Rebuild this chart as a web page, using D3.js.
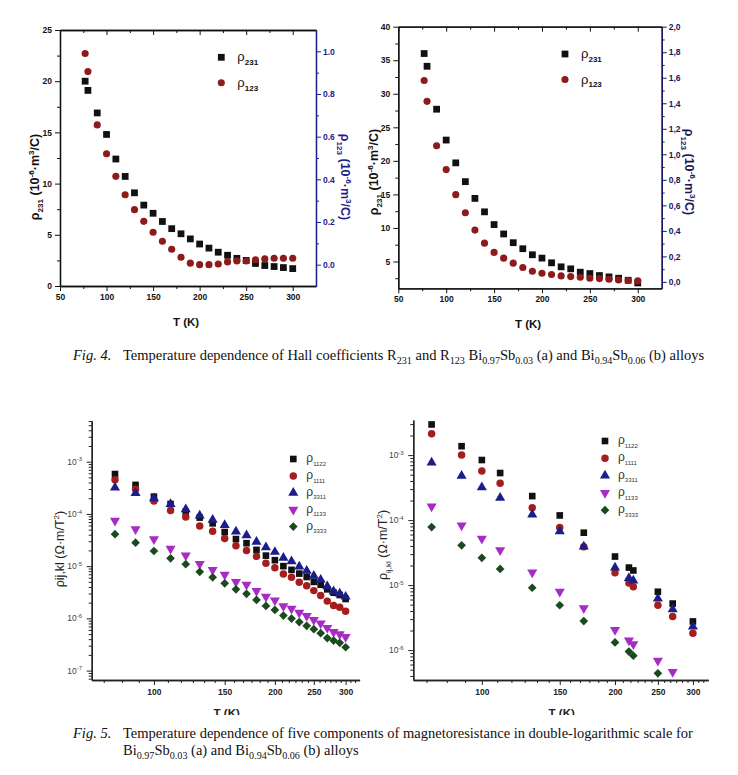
<!DOCTYPE html>
<html lang="en">
<head>
<meta charset="UTF-8">
<title>Fig. 4 / Fig. 5 - Hall coefficients and magnetoresistance</title>
<script src="https://d3js.org/d3.v7.min.js"></script>
<style>
  body { margin: 0; background: #fff; }
  svg { display: block; }
</style>
</head>
<body>
<svg id="fig" width="738" height="775"></svg>
<script>
// ---- Fig. 4 data (Hall coefficients) ----
const hallT = [77, 80, 90, 100, 110, 120, 130, 140, 150, 160, 170, 180, 190, 200, 210, 220, 230, 240, 250, 260, 270, 280, 290, 300];
const r231A = [20.0, 19.1, 16.9, 14.8, 12.4, 10.7, 9.1, 7.9, 7.1, 6.3, 5.6, 5.1, 4.6, 4.1, 3.7, 3.3, 3.0, 2.7, 2.5, 2.2, 2.0, 1.9, 1.8, 1.7];
const r123A = [0.99, 0.905, 0.655, 0.52, 0.414, 0.328, 0.258, 0.203, 0.152, 0.110, 0.072, 0.035, 0.007, 0.0, 0.0, 0.003, 0.013, 0.017, 0.017, 0.023, 0.027, 0.03, 0.03, 0.03];
const r231B = [36.0, 34.1, 27.7, 23.1, 19.7, 16.9, 14.4, 12.4, 10.5, 9.1, 7.8, 6.9, 6.0, 5.5, 4.8, 4.2, 3.9, 3.4, 3.2, 2.9, 2.7, 2.5, 2.2, 1.8];
const r123B = [1.578, 1.415, 1.067, 0.880, 0.684, 0.542, 0.406, 0.304, 0.231, 0.186, 0.147, 0.113, 0.084, 0.068, 0.058, 0.047, 0.042, 0.037, 0.029, 0.026, 0.021, 0.016, 0.011, 0.008];

const hallXTicks = [50, 100, 150, 200, 250, 300];
const hallXMinor = [75, 125, 175, 225, 275];
const leftTicksA = [0, 5, 10, 15, 20, 25];
const leftTicksB = [5, 10, 15, 20, 25, 30, 35, 40];
const rightTicksA = [0, 0.2, 0.4, 0.6, 0.8, 1.0];
const rightTicksB = [0, 0.2, 0.4, 0.6, 0.8, 1.0, 1.2, 1.4, 1.6, 1.8, 2.0];
const hallNames = ["231", "123"];

// ---- Fig. 5 data (magnetoresistance, log-log) ----
const mrTA = [80, 90, 100, 110, 120, 130, 140, 150, 160, 170, 180, 190, 200, 210, 220, 230, 240, 250, 260, 270, 280, 290, 300];
const p1122A = [5.8e-4, 3.6e-4, 2.14e-4, 1.55e-4, 1.1e-4, 8.5e-5, 6.6e-5, 4.5e-5, 3.3e-5, 2.75e-5, 2.05e-5, 1.59e-5, 1.3e-5, 1.0e-5, 8.5e-6, 7.2e-6, 6.2e-6, 5.0e-6, 4.4e-6, 3.6e-6, 3.1e-6, 2.8e-6, 2.35e-6];
const p1111A = [4.5e-4, 2.96e-4, 1.77e-4, 1.16e-4, 8.7e-5, 5.9e-5, 4.65e-5, 3.4e-5, 2.45e-5, 2.0e-5, 1.54e-5, 1.14e-5, 9.3e-6, 7.1e-6, 6.1e-6, 4.9e-6, 4.2e-6, 3.4e-6, 2.73e-6, 2.14e-6, 1.76e-6, 1.63e-6, 1.37e-6];
const p3311A = [3.2e-4, 2.5e-4, 1.99e-4, 1.55e-4, 1.23e-4, 9.3e-5, 7.7e-5, 6.1e-5, 4.6e-5, 3.9e-5, 2.93e-5, 2.29e-5, 1.87e-5, 1.44e-5, 1.24e-5, 9.8e-6, 8.1e-6, 6.5e-6, 5.5e-6, 4.1e-6, 3.3e-6, 2.97e-6, 2.6e-6];
const p1133A = [7.4e-5, 5.1e-5, 3.27e-5, 2.16e-5, 1.61e-5, 1.1e-5, 8.5e-6, 6.9e-6, 5.0e-6, 4.4e-6, 3.35e-6, 2.6e-6, 2.22e-6, 1.71e-6, 1.54e-6, 1.29e-6, 1.11e-6, 9.3e-7, 8.0e-7, 6.6e-7, 5.5e-7, 5.0e-7, 4.4e-7];
const p3333A = [4.1e-5, 2.82e-5, 1.95e-5, 1.41e-5, 1.09e-5, 7.8e-6, 6.1e-6, 4.7e-6, 3.6e-6, 2.95e-6, 2.25e-6, 1.73e-6, 1.45e-6, 1.13e-6, 9.9e-7, 8.5e-7, 7.2e-7, 6.2e-7, 5.2e-7, 4.2e-7, 3.75e-7, 3.4e-7, 2.8e-7];

const mrTB = [77, 90, 100, 110, 130, 150, 170, 200, 215, 220, 250, 270, 300];
const p1122B = [2.96e-3, 1.37e-3, 8.4e-4, 5.3e-4, 2.34e-4, 1.18e-4, 6.4e-5, 2.75e-5, 1.86e-5, 1.68e-5, 7.9e-6, 5.2e-6, 2.76e-6];
const p1111B = [2.13e-3, 1.0e-3, 5.7e-4, 3.7e-4, 1.55e-4, 7.7e-5, 3.9e-5, 1.55e-5, 1.08e-5, 9.4e-6, 4.9e-6, 3.3e-6, 1.82e-6];
const p3311B = [7.7e-4, 4.8e-4, 3.2e-4, 2.2e-4, 1.22e-4, 6.7e-5, 3.9e-5, 1.86e-5, 1.28e-5, 1.17e-5, 6.2e-6, 4.25e-6, 2.3e-6];
const p1133B = [1.62e-4, 8.3e-5, 5.2e-5, 3.45e-5, 1.57e-5, 7.9e-6, 4.4e-6, 2.04e-6, 1.41e-6, 1.23e-6, 6.9e-7, 4.6e-7, null];
const p3333B = [7.8e-5, 4.1e-5, 2.63e-5, 1.77e-5, 9.1e-6, 4.9e-6, 2.8e-6, 1.31e-6, 9.5e-7, 8.2e-7, 4.4e-7, null, null];

const mrXTicks = [100, 150, 200, 250, 300];
const mrYTicksA = [1e-7, 1e-6, 1e-5, 1e-4, 1e-3];
const mrYTicksB = [1e-6, 1e-5, 1e-4, 1e-3];
const mrNames = ["1122", "1111", "3311", "1133", "3333"];

const sans = '"Liberation Sans", Arial, sans-serif';
const serif = '"Liberation Serif", "Times New Roman", serif';
const svg = d3.select("#fig");

// text with sub/superscripts: parts = [[string, "sub"|"sup"|null], ...]
function rich(text, parts, size, small) {
  let off = 0;
  parts.forEach(([s, kind]) => {
    const target = kind === "sub" ? size * 0.3 : kind === "sup" ? -size * 0.4 : 0;
    const ts = text.append("tspan").text(s).attr("dy", target - off);
    if (kind) ts.attr("font-size", size * (small || 0.65));
    off = target;
  });
  return text;
}

function styleAxis(g, color, size, weight) {
  g.select(".domain").attr("stroke", color).attr("stroke-width", 1.3);
  g.selectAll(".tick line").attr("stroke", color).attr("stroke-width", 1);
  g.selectAll(".tick text").attr("fill", color).attr("font-size", size)
    .attr("font-weight", weight).attr("font-family", sans);
}

function addAxis(gen, tx, ty, color, size, weight) {
  const g = svg.append("g").attr("transform", `translate(${tx},${ty})`).call(gen);
  styleAxis(g, color, size || 8.5, weight || "bold");
  return g;
}

// ---------- Fig. 4 panels ----------
function drawHall(c) {
  const x = d3.scaleLinear().domain([50, 325]).range([c.left, c.right]);
  const yL = d3.scaleLinear().domain(c.yLDom).range([c.bottom, c.top]);
  const yR = d3.scaleLinear().domain(c.yRDom).range([c.bottom, c.top]);
  const k = "#111";

  addAxis(d3.axisBottom(x).tickValues(hallXMinor).tickSize(3).tickFormat("").tickSizeOuter(0), 0, c.bottom, k);
  addAxis(d3.axisBottom(x).tickValues(hallXTicks).tickSize(5).tickPadding(3).tickSizeOuter(0), 0, c.bottom, k);
  addAxis(d3.axisTop(x).tickValues(hallXMinor).tickSize(-3).tickFormat("").tickSizeOuter(0), 0, c.top, k);
  addAxis(d3.axisTop(x).tickValues(hallXTicks).tickSize(-5).tickFormat("").tickSizeOuter(0), 0, c.top, k);

  const lMinor = c.leftTicks.map(v => v - c.leftStep / 2).filter(v => v > c.yLDom[0]);
  addAxis(d3.axisLeft(yL).tickValues(lMinor).tickSize(3).tickFormat("").tickSizeOuter(0), c.left, 0, k);
  addAxis(d3.axisLeft(yL).tickValues(c.leftTicks).tickSize(5).tickPadding(3).tickSizeOuter(0), c.left, 0, k);

  const rMinor = c.rightTicks.map(v => v + 0.1).filter(v => v < c.yRDom[1]);
  addAxis(d3.axisRight(yR).tickValues(rMinor).tickSize(3).tickFormat("").tickSizeOuter(0), c.right, 0, c.blue);
  addAxis(d3.axisRight(yR).tickValues(c.rightTicks).tickSize(5).tickPadding(2).tickSizeOuter(0)
    .tickFormat(c.rFmt), c.right, 0, c.blue);

  // markers
  const sq = d3.symbol().type(d3.symbolSquare).size(46);
  const ci = d3.symbol().type(d3.symbolCircle).size(40);
  svg.append("g").selectAll("path").data(hallT.map((t, i) => [t, c.s231[i]])).join("path")
    .attr("d", sq).attr("fill", "#111")
    .attr("transform", d => `translate(${x(d[0])},${yL(d[1])})`);
  svg.append("g").selectAll("path").data(hallT.map((t, i) => [t, c.s123[i]])).join("path")
    .attr("d", ci).attr("fill", "#8e1b1b")
    .attr("transform", d => `translate(${x(d[0])},${yR(d[1])})`);

  // legend
  const lg = svg.append("g").attr("transform", `translate(${c.legX},${c.legY})`);
  [[sq, "#111"], [ci, "#8e1b1b"]].forEach(([sym, col], i) => {
    lg.append("path").attr("d", sym).attr("fill", col).attr("transform", `translate(0,${i * 25.5})`);
    rich(lg.append("text").attr("x", 16).attr("y", i * 25.5 + 4).attr("font-family", sans)
      .attr("font-size", 13).attr("fill", "#111"), [["ρ", null], [hallNames[i], "sub"]], 13, 0.62)
      .selectAll("tspan").filter((d, j) => j === 1).attr("font-weight", "bold");
  });

  // axis titles
  svg.append("text").attr("x", (c.left + c.right) / 2 - 2).attr("y", c.bottom + 40)
    .attr("text-anchor", "middle").attr("font-family", sans).attr("font-weight", "bold")
    .attr("font-size", 11.5).attr("fill", "#111").text("T (K)");
  rich(svg.append("text").attr("transform", `translate(${c.leftLabX},${c.labY}) rotate(-90)`)
    .attr("text-anchor", "middle").attr("font-family", sans).attr("font-weight", "bold")
    .attr("font-size", 12.5).attr("fill", "#111"),
    [["ρ", null], ["231", "sub"], [" (10", null], ["-6", "sup"], ["·m", null], ["3", "sup"], ["/C)", null]], 12.5);
  rich(svg.append("text").attr("transform", `translate(${c.rightLabX},${c.labY}) rotate(90)`)
    .attr("text-anchor", "middle").attr("font-family", sans).attr("font-weight", "bold")
    .attr("font-size", 12.5).attr("fill", c.blue),
    [["ρ", null], ["123", "sub"], [" (10", null], ["-6", "sup"], ["·m", null], ["3", "sup"], ["/C)", null]], 12.5);
}

drawHall({
  left: 60, right: 316, top: 30, bottom: 286,
  yLDom: [0, 25], yRDom: [-0.1, 1.1], leftTicks: leftTicksA, leftStep: 5, rightTicks: rightTicksA,
  s231: r231A, s123: r123A, blue: "#22228c", rFmt: d3.format(".1f"),
  legX: 221.3, legY: 57.3, leftLabX: 39, rightLabX: 341, labY: 177
});
drawHall({
  left: 398.3, right: 661.7, top: 26.7, bottom: 288.3,
  yLDom: [1, 40], yRDom: [-0.05, 2.0], leftTicks: leftTicksB, leftStep: 5, rightTicks: rightTicksB,
  s231: r231B, s123: r123B, blue: "#16165e", rFmt: v => d3.format(".1f")(v).replace(".", ","),
  legX: 565, legY: 54, leftLabX: 378, rightLabX: 685, labY: 172
});

// ---------- Fig. 5 panels ----------
function logMinor(lo, hi) {
  const out = [];
  for (let e = Math.floor(Math.log10(lo)); e <= Math.ceil(Math.log10(hi)); e++)
    for (let m = 2; m <= 9; m++) { const v = m * Math.pow(10, e); if (v > lo && v < hi) out.push(v); }
  return out;
}
function tMinor(lo, hi) {
  const out = [];
  for (let a = 50; a < 350; a += 50)
    for (let j = 1; j < 6; j++) { const v = a + j * 50 / 6; if (v > lo && v < hi) out.push(v); }
  return out;
}

function drawMR(c) {
  const x = d3.scaleLog().domain([70, 325]).range([c.left, c.right]);
  const y = d3.scaleLog().domain(c.yDom).range([c.bottom, c.top]);
  const k = "#222";

  addAxis(d3.axisBottom(x).tickValues(tMinor(70, 325)).tickSize(3).tickFormat("").tickSizeOuter(0), 0, c.bottom, k);
  addAxis(d3.axisBottom(x).tickValues(mrXTicks).tickSize(5).tickPadding(4).tickFormat(d3.format("d")).tickSizeOuter(0), 0, c.bottom, k);
  addAxis(d3.axisLeft(y).tickValues(logMinor(c.yDom[0], c.yDom[1])).tickSize(3).tickFormat("").tickSizeOuter(0), c.left, 0, k);
  addAxis(d3.axisLeft(y).tickValues(c.yTicks).tickSize(5).tickFormat("").tickSizeOuter(0), c.left, 0, k);
  // decade labels 10^n
  c.yTicks.forEach(v => {
    rich(svg.append("text").attr("x", c.left - 17).attr("y", y(v) + 3).attr("text-anchor", "middle")
      .attr("font-family", sans).attr("font-size", 8.5).attr("fill", "#444"),
      [["10", null], [String(Math.round(Math.log10(v))), "sup"]], 8.5, 0.7);
  });

  const square = d3.symbol().type(d3.symbolSquare).size(44);
  const circle = d3.symbol().type(d3.symbolCircle).size(44);
  const tri = d3.symbol().type(d3.symbolTriangle).size(44);
  const diamond = d3.symbol().type(d3.symbolSquare).size(38);
  const specs = [
    { sym: square, col: "#111", rot: 0 },
    { sym: circle, col: "#a41e1e", rot: 0 },
    { sym: tri, col: "#1c1c8a", rot: 0 },
    { sym: tri, col: "#a72cc6", rot: 180 },
    { sym: diamond, col: "#1b4a1f", rot: 45 }
  ];
  c.series.forEach((vals, i) => {
    const s = specs[i];
    svg.append("g").selectAll("path")
      .data(c.temps.map((t, j) => [t, vals[j]]).filter(d => d[1] != null)).join("path")
      .attr("d", s.sym).attr("fill", s.col)
      .attr("transform", d => `translate(${x(d[0])},${y(d[1])}) rotate(${s.rot})`);
  });

  // legend
  const lg = svg.append("g").attr("transform", `translate(${c.legX},${c.legY})`);
  specs.forEach((s, i) => {
    lg.append("path").attr("d", s.sym).attr("fill", s.col)
      .attr("transform", `translate(0,${i * c.legStep}) rotate(${s.rot})`);
    rich(lg.append("text").attr("x", 13).attr("y", i * c.legStep + 3).attr("font-family", sans)
      .attr("font-size", 12).attr("fill", "#333"), [["ρ", null], [mrNames[i], "sub"]], 12, 0.5);
  });

  // axis titles (x title is cut by the caption area in the original)
  const clipId = "clip" + c.id;
  svg.append("clipPath").attr("id", clipId).append("rect")
    .attr("x", c.left).attr("y", c.bottom).attr("width", c.right - c.left).attr("height", 35);
  svg.append("text").attr("x", c.xLabX).attr("y", c.bottom + 37).attr("clip-path", `url(#${clipId})`)
    .attr("text-anchor", "middle").attr("font-family", sans).attr("font-weight", "bold")
    .attr("font-size", 11.5).attr("fill", "#222").text("T (K)");
  rich(svg.append("text").attr("transform", `translate(${c.yLabX},${c.yLabY}) rotate(-90)`)
    .attr("text-anchor", "middle").attr("font-family", sans).attr("font-size", 12.5).attr("fill", "#222"),
    c.yLabel, 12.5);
}

drawMR({
  id: "a", left: 91.7, right: 359.6, top: 420.7, bottom: 680,
  yDom: [Math.pow(10, -7.18), Math.pow(10, -2.215)], yTicks: mrYTicksA,
  temps: mrTA, series: [p1122A, p1111A, p3311A, p1133A, p3333A],
  legX: 293.3, legY: 459, legStep: 16.9, xLabX: 226.7, yLabX: 64, yLabY: 549,
  yLabel: [["ρij,kl (Ω·m/T", null], ["2", "sup"], [")", null]]
});
drawMR({
  id: "b", left: 413.3, right: 708.3, top: 420, bottom: 680,
  yDom: [Math.pow(10, -6.46), Math.pow(10, -2.46)], yTicks: mrYTicksB,
  temps: mrTB, series: [p1122B, p1111B, p3311B, p1133B, p3333B],
  legX: 605, legY: 441, legStep: 17.3, xLabX: 561.7, yLabX: 387, yLabY: 545,
  yLabel: [["ρ", null], ["ij,kl", "sub"], [" (Ω·m/T", null], ["2", "sup"], [")", null]]
});

// ---------- captions ----------
const capSize = 14.5;
function caption(xFig, xText, y, fig, parts) {
  svg.append("text").attr("x", xFig).attr("y", y).attr("font-family", serif).attr("font-size", capSize)
    .attr("font-style", "italic").attr("fill", "#111").text(fig);
  rich(svg.append("text").attr("x", xText).attr("y", y).attr("font-family", serif).attr("font-size", capSize)
    .attr("fill", "#111"), parts, capSize, 0.7);
}
const chem = [["Bi", null], ["0.97", "sub"], ["Sb", null], ["0.03", "sub"], [" (a) and Bi", null], ["0.94", "sub"], ["Sb", null], ["0.06", "sub"], [" (b) alloys", null]];
caption(73, 123, 360, "Fig. 4.",
  [["Temperature dependence of Hall coefficients R", null], ["231", "sub"], [" and R", null], ["123", "sub"], [" ", null]].concat(chem));
caption(73, 123, 738, "Fig. 5.",
  [["Temperature dependence of five components of magnetoresistance in double-logarithmic scale for", null]]);
rich(svg.append("text").attr("x", 123).attr("y", 755).attr("font-family", serif).attr("font-size", capSize)
  .attr("fill", "#111"), chem, capSize, 0.7);
</script>
</body>
</html>
